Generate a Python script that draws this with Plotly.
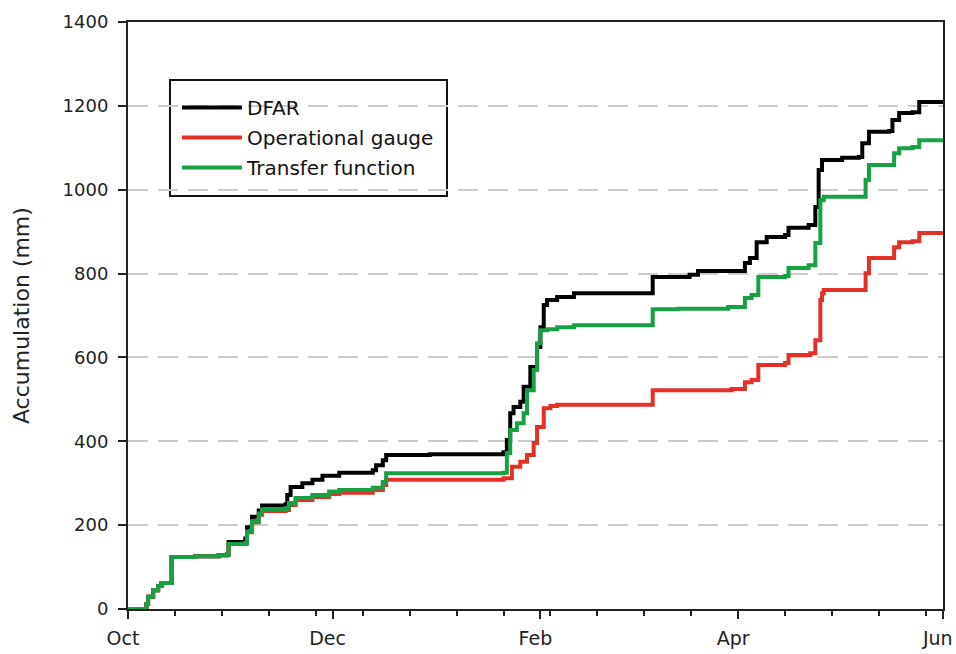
import pandas as pd
import plotly.graph_objects as go

# Days since 1 October, and accumulated precipitation (mm)
dfar_days = [0, 5, 5.5, 6, 7.5, 9, 10, 13, 20, 27, 29.5, 30, 35, 35.5, 37, 39, 40, 47, 47.5, 48.5, 52, 55, 58, 63,
             73, 74, 76, 77, 90, 112, 113, 114, 115, 117, 118, 120, 122, 123, 124, 125, 128, 133, 156, 156.5,
             167.5, 170, 182, 184, 185.5, 187.5, 190.5, 196, 197, 203, 205, 206, 207, 213, 218, 219, 221, 227,
             228, 230, 234, 236, 243]
dfar_vals = [0, 0, 12, 29, 45, 55, 62, 124, 126, 128, 130, 160, 168, 195, 220, 235, 247, 250, 272, 291, 300, 308, 318, 325,
             331, 343, 355, 367, 369, 374, 403, 467, 482, 494, 530, 577, 625, 672, 725, 737, 744, 753, 753, 792,
             797, 806, 806, 825, 837, 875, 887, 892, 909, 916, 959, 1047, 1071, 1076, 1078, 1111, 1138, 1140,
             1166, 1183, 1185, 1209, 1214]

gauge_days = [0, 5, 5.5, 6, 7.5, 9, 10, 13, 20, 27, 29.5, 30, 35, 35.5, 37, 39, 40, 47, 48, 50, 55, 60, 63,
              73, 76, 77, 112, 114.5, 117, 119, 121, 122, 124, 126, 128, 156, 156.5, 180, 182, 184, 186, 188,
              196, 197, 203.5, 205, 206.5, 207, 207.5, 219, 220, 221, 227.5, 228.5, 230, 234, 236, 243]
gauge_vals = [0, 0, 12, 29, 45, 55, 62, 124, 126, 128, 130, 155, 157, 183, 207, 225, 234, 236, 248, 260, 267, 274, 277,
              284, 296, 308, 312, 339, 351, 367, 396, 434, 479, 484, 487, 487, 522, 525, 525, 541, 546, 582,
              587, 606, 610, 641, 737, 753, 761, 761, 801, 837, 837, 863, 875, 877, 897, 898]

tf_days = [0, 5, 5.5, 6, 7.5, 9, 10, 13, 20, 27, 29.5, 30, 35, 35.5, 37, 39, 40, 47, 48, 50, 55, 60, 63,
           73, 76, 77, 112, 113, 114, 116, 118, 119, 121, 122, 123, 125, 128, 133, 156, 156.5, 164, 179, 182,
           184, 186, 188, 196, 197, 203, 205, 206.5, 207.5, 219, 220, 221, 227.5, 228.5, 230, 234, 236, 243]
tf_vals = [0, 0, 12, 29, 45, 55, 62, 124, 126, 128, 130, 155, 157, 185, 210, 228, 238, 240, 253, 265, 272, 280, 284,
           289, 303, 324, 325, 372, 427, 443, 467, 522, 570, 634, 665, 667, 672, 677, 677, 715, 716, 720, 720,
           742, 749, 792, 794, 813, 820, 873, 975, 983, 983, 1023, 1059, 1059, 1087, 1099, 1102, 1118, 1120]

series_names = ["DFAR", "Operational gauge", "Transfer function"]
series_colors = ["#000000", "#e5302a", "#18a045"]

season_start = pd.Timestamp("2010-10-01")
season_end = pd.Timestamp("2011-06-01 02:00")
tick_months = ["2010-10-01", "2010-12-01", "2011-02-01", "2011-04-01", "2011-06-01"]
tick_labels = ["Oct", "Dec", "Feb", "Apr", "Jun"]
y_ticks = [0, 200, 400, 600, 800, 1000, 1200, 1400]


def to_dates(days):
    return season_start + pd.to_timedelta(days, unit="D")


fig = go.Figure()
for name, color, days, vals in zip(series_names, series_colors,
                                   [dfar_days, gauge_days, tf_days],
                                   [dfar_vals, gauge_vals, tf_vals]):
    fig.add_trace(go.Scatter(
        x=to_dates(days), y=vals, mode="lines", name=name, legendgroup=name,
        line=dict(color=color, width=4, shape="hv"),
    ))

font_family = "DejaVu Sans"
fig.update_layout(
    width=956, height=654,
    margin=dict(l=128, r=13, t=22, b=45, autoexpand=False),
    paper_bgcolor="white", plot_bgcolor="white",
    font=dict(family=font_family, color="#222222"),
    showlegend=True,
    legend=dict(
        x=0.0601, y=0.8876, xanchor="left", yanchor="top",
        bgcolor="rgba(0,0,0,0)", borderwidth=0,
        font=dict(family=font_family, size=20, color="#111111"),
        itemwidth=60, tracegroupgap=1,
    ),
    shapes=[dict(type="rect", xref="paper", yref="paper",
                 x0=0.0515, x1=0.3914, y0=0.7036, y1=0.9012,
                 line=dict(color="#111111", width=2), fillcolor="white", layer="below")],
    annotations=[dict(text="Accumulation (mm)", xref="paper", yref="paper",
                      x=-0.1306, y=0.5, xanchor="center", yanchor="middle", textangle=-90,
                      showarrow=False, font=dict(size=22, family=font_family, color="#222222"))],
)

fig.update_xaxes(
    type="date", automargin=False,
    range=[season_start, season_end],
    tickvals=tick_months, ticktext=tick_labels,
    ticks="outside", ticklen=8, tickwidth=2, tickcolor="#222222",
    tickfont=dict(size=19, family=font_family, color="#222222"),
    ticklabelstandoff=3, ticklabelshift=-5,
    showline=True, linecolor="#222222", linewidth=2, mirror=True,
    showgrid=False, zeroline=False,
    minor=dict(dtick=14 * 86400000, tick0="2010-10-01", ticks="outside",
               ticklen=5, tickwidth=2, tickcolor="#222222", showgrid=False),
)

fig.update_yaxes(
    automargin=False,
    range=[0, 1400],
    tickvals=y_ticks,
    ticks="outside", ticklen=8, tickwidth=2, tickcolor="#222222",
    tickfont=dict(size=18, family=font_family, color="#222222"),
    ticklabelstandoff=6,
    showline=True, linecolor="#222222", linewidth=2, mirror=True,
    showgrid=True, gridcolor="#cccccc", gridwidth=2, griddash="20px,10px",
    zeroline=False,
)

fig.write_html("out.html")
